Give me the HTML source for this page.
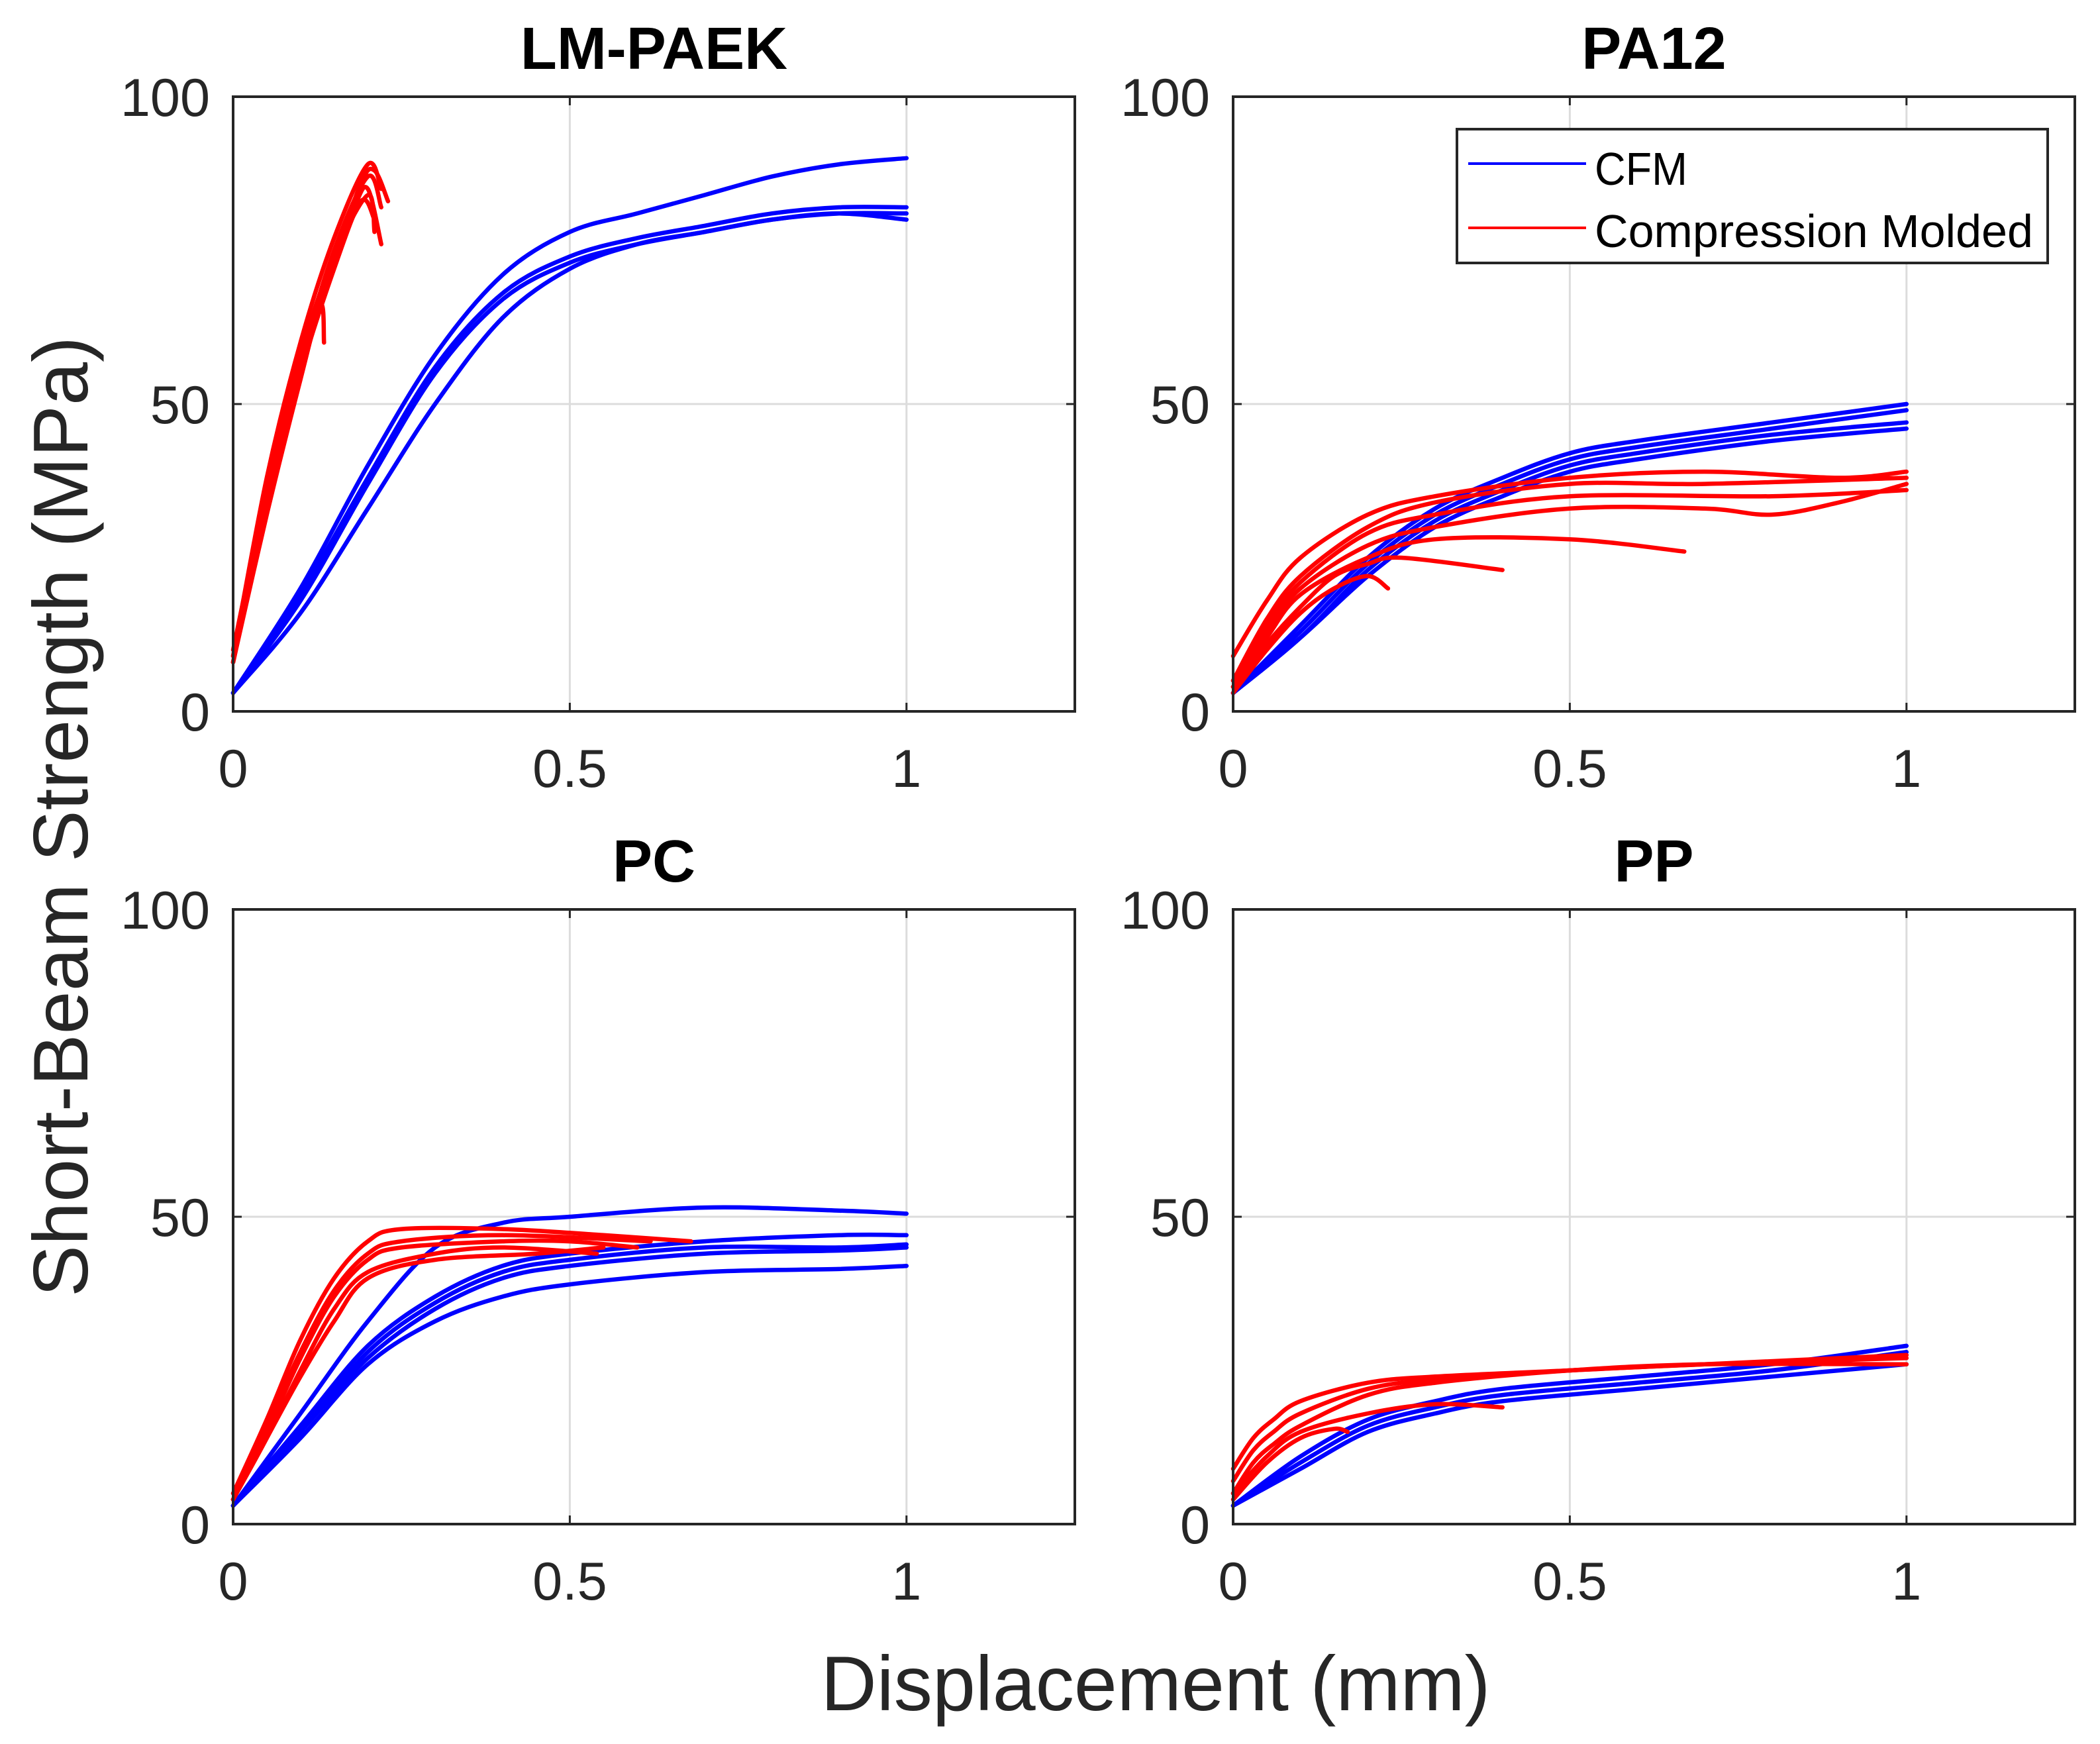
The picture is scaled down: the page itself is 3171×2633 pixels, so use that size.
<!DOCTYPE html>
<html><head><meta charset="utf-8"><style>
html,body{margin:0;padding:0;background:#fff;}
svg{display:block;font-family:"Liberation Sans",Arial,sans-serif;}
</style></head><body>
<svg id="fig" width="3171" height="2633" viewBox="0 0 3171 2633" xmlns="http://www.w3.org/2000/svg">
<rect width="3171" height="2633" fill="#fff"/>
<text x="1745" y="2582" font-size="117" fill="#262626" text-anchor="middle" textLength="1011" lengthAdjust="spacingAndGlyphs">Displacement (mm)</text>
<text transform="translate(132,1233) rotate(-90)" font-size="117" fill="#262626" text-anchor="middle">Short-Beam Strength (MPa)</text>
</svg>
<script>
// ---------- data ----------
const panelTitles = ["LM-PAEK","PA12","PC","PP"];
const xTicks = [0,0.5,1];
const xTickLabels = ["0","0.5","1"];
const yTicks = [0,50,100];
const yTickLabels = ["0","50","100"];
const legendLabels = ["CFM","Compression Molded"];

// LM-PAEK
const paekBlueX = [[0,.1,.2,.3,.4,.5,.6,.7,.8,.9,1],[0,.1,.2,.3,.4,.5,.6,.7,.8,.9,1],[0,.1,.2,.3,.4,.5,.6,.7,.8,.9,1],[0,.1,.2,.3,.4,.5,.6,.7,.8,.9,1]];
const paekBlueY = [[3,20,40,58,71,78,81,84,87,89,90],[3,19,38,56,68,74,77,79,81,82,82],[3,18,37,55,67,73,76,78,80,81,81],[3,16,33,50,64,72,76,78,80,81,80]];
const paekRedX = [[0,.05,.1,.15,.2,.22],[0,.05,.1,.15,.19,.21,.23],[0,.05,.1,.14,.18,.2,.22],[0,.05,.1,.13,.135],[0,.05,.1,.15,.2,.21],[0,.05,.1,.15,.2,.22],[0,.05,.1,.15,.19,.21]];
const paekRedY = [[9,38,60,77,89,85],[8,34,56,73,86,88,83],[8,33,55,70,82,85,76],[8,32,54,66,60],[10,36,58,74,84,78],[9,35,57,75,87,82],[8,33,55,72,83,80]];
// PA12
const pa12BlueX = [[0,.1,.2,.3,.4,.5,.6,.8,1],[0,.1,.2,.3,.4,.5,.6,.8,1],[0,.1,.2,.3,.4,.5,.6,.8,1],[0,.1,.2,.3,.4,.5,.6,.8,1]];
const pa12BlueY = [[3,14,25,33,38,42,44,47,50],[3,13,24,32,37,41,43,46,49],[3,12,23,31,36,40,42,45,47],[3,12,22,30,35,39,41,44,46]];
const pa12RedX = [[0,.05,.1,.2,.3,.5,.7,.9,1],[0,.05,.1,.2,.3,.5,.7,1],[0,.05,.1,.2,.3,.5,.8,1],[0,.05,.1,.2,.3,.5,.7,.8,.9,1],[0,.05,.1,.2,.3,.5,.67],[0,.05,.1,.15,.2,.25,.4],[0,.05,.1,.15,.2,.23]];
const pa12RedY = [[9,18,25,32,35,38,39,38,39],[5,15,22,30,34,37,37,38],[5,14,21,29,32,35,35,36],[4,13,20,27,30,33,33,32,34,37],[4,12,19,25,28,28,26],[4,11,17,22,24,25,23],[3,10,16,20,22,20]];
// PC
const pcBlueX = [[0,.1,.2,.3,.4,.5,.7,.9,1],[0,.1,.2,.3,.4,.5,.7,.9,1],[0,.1,.2,.3,.4,.5,.7,.9,1],[0,.1,.2,.3,.4,.5,.7,.9,1],[0,.1,.2,.3,.4,.5,.7,.9,1]];
const pcBlueY = [[3,18,33,45,49,50,51.5,51,50.5],[3,16,29,37,42,44,46,47,47],[3,15,28,36,41,43,45,45,45.5],[3,15,27,35,40,42,44,44.5,45],[3,14,26,33,37,39,41,41.5,42]];
const pcRedX = [[0,.05,.1,.15,.2,.25,.4,.55,.68],[0,.05,.1,.15,.2,.25,.4,.5,.6],[0,.05,.1,.15,.2,.3,.4,.54],[0,.05,.1,.15,.2,.3,.45,.55],[0,.05,.1,.15,.2,.25,.4,.62]];
const pcRedY = [[5,17,30,40,46,48,48,47,46],[4,15,27,37,43,45,46,46,45],[4,14,25,35,41,44,45,44],[4,14,24,33,40,43,44,45],[4,16,28,38,44,46,47,46]];
// PP
const ppBlueX = [[0,.1,.2,.3,.4,.6,.8,1],[0,.1,.2,.3,.4,.6,.8,1],[0,.1,.2,.3,.4,.6,.8,1]];
const ppBlueY = [[3,11,17,20,22,24,26,29],[3,10,16,19,21,23,25,28],[3,9,15,18,20,22,24,26]];
const ppRedX = [[0,.03,.06,.1,.2,.3,.5,.7,1],[0,.03,.06,.1,.2,.3,.5,.7,1],[0,.03,.06,.1,.2,.3,.5,.7,1],[0,.05,.1,.2,.3,.4],[0,.05,.1,.15,.17]];
const ppRedY = [[9,14,17,20,23,24,25,26,27],[7,12,15,18,22,23.5,25,26,27.5],[5,10,13,16,21,23,25,26,26],[5,11,15,18,19.5,19],[4,10,14,15.5,15]];

// ---------- layout ----------
const NS = "http://www.w3.org/2000/svg";
const svg = document.getElementById('fig');
const panels = [
  {l:352,t:146,r:1623,b:1074,bx:paekBlueX,by:paekBlueY,rx:paekRedX,ry:paekRedY,key:'lm-paek'},
  {l:1862,t:146,r:3133,b:1074,bx:pa12BlueX,by:pa12BlueY,rx:pa12RedX,ry:pa12RedY,key:'pa12'},
  {l:352,t:1373,r:1623,b:2301,bx:pcBlueX,by:pcBlueY,rx:pcRedX,ry:pcRedY,key:'pc'},
  {l:1862,t:1373,r:3133,b:2301,bx:ppBlueX,by:ppBlueY,rx:ppRedX,ry:ppRedY,key:'pp'}
];
const XMAX = 1.25, YMAX = 100;
function mk(tag, attrs, parent){const e=document.createElementNS(NS,tag);for(const k in attrs)e.setAttribute(k,attrs[k]);(parent||svg).appendChild(e);return e;}
function smoothPath(pts){
  let d = "M"+pts[0][0].toFixed(1)+","+pts[0][1].toFixed(1);
  for(let i=0;i<pts.length-1;i++){
    const p0=pts[Math.max(0,i-1)],p1=pts[i],p2=pts[i+1],p3=pts[Math.min(pts.length-1,i+2)];
    const c1=[p1[0]+(p2[0]-p0[0])/6,p1[1]+(p2[1]-p0[1])/6];
    const c2=[p2[0]-(p3[0]-p1[0])/6,p2[1]-(p3[1]-p1[1])/6];
    d+=" C"+c1[0].toFixed(1)+","+c1[1].toFixed(1)+" "+c2[0].toFixed(1)+","+c2[1].toFixed(1)+" "+p2[0].toFixed(1)+","+p2[1].toFixed(1);
  }
  return d;
}
panels.forEach((p,pi)=>{
  const sx = v => p.l + v/XMAX*(p.r-p.l);
  const sy = v => p.b - v/YMAX*(p.b-p.t);
  const g = mk('g',{});
  
  
  xTicks.forEach((v,i)=>{ if(v>0){ const gl=mk('line',{x1:sx(v),x2:sx(v),y1:p.t,y2:p.b,stroke:'#dcdcdc','stroke-width':3},g);
    
     }});
  yTicks.forEach((v,i)=>{ if(v>0&&v<YMAX){ const gl=mk('line',{x1:p.l,x2:p.r,y1:sy(v),y2:sy(v),stroke:'#dcdcdc','stroke-width':3},g);
    
     }});
  const addSeries=(X,Y,color,nm)=>{
    X.forEach((xs,ci)=>{
      const pts = xs.map((x,j)=>[sx(x),sy(Y[ci][j])]);
      const path = mk('path',{d:smoothPath(pts),fill:'none',stroke:color,'stroke-width':6.5,'stroke-linejoin':'round','stroke-linecap':'round'},g);
      
      
    });
  };
  addSeries(p.bx,p.by,'#0000ff','cfm');
  addSeries(p.rx,p.ry,'#ff0000','compression-molded');
  xTicks.forEach((v,i)=>{
    mk('line',{x1:sx(v),x2:sx(v),y1:p.b,y2:p.b-13,stroke:'#262626','stroke-width':3},g);
    mk('line',{x1:sx(v),x2:sx(v),y1:p.t,y2:p.t+13,stroke:'#262626','stroke-width':3},g);
    const t=mk('text',{x:sx(v),y:p.b+114,'font-size':81,fill:'#262626','text-anchor':'middle'},g);
    t.textContent=xTickLabels[i];
    
    
  });
  yTicks.forEach((v,i)=>{
    mk('line',{x1:p.l,x2:p.l+13,y1:sy(v),y2:sy(v),stroke:'#262626','stroke-width':3},g);
    mk('line',{x1:p.r,x2:p.r-13,y1:sy(v),y2:sy(v),stroke:'#262626','stroke-width':3},g);
    const t=mk('text',{x:p.l-35,y:sy(v)+29,'font-size':81,fill:'#262626','text-anchor':'end'},g);
    t.textContent=yTickLabels[i];
    
    
  });
  const box=mk('rect',{x:p.l,y:p.t,width:p.r-p.l,height:p.b-p.t,fill:'none',stroke:'#262626','stroke-width':4},g);
  
  
  const tt=mk('text',{x:(p.l+p.r)/2,y:p.t-42,'font-size':90,'font-weight':'bold',fill:'#000','text-anchor':'middle'},g);
  tt.textContent=panelTitles[pi];
  
  
});
const lg = mk('g',{});


mk('rect',{x:2200,y:195,width:892,height:202,fill:'#fff',stroke:'#262626','stroke-width':4},lg);
const legColors=['#0000ff','#ff0000'];
const legY=[247,344];
const legBase=[279,373];
const legLen=[140,662];
legendLabels.forEach((lab,i)=>{
  const e=mk('g',{},lg);
  
  
  mk('line',{x1:2217,x2:2395,y1:legY[i],y2:legY[i],stroke:legColors[i],'stroke-width':4},e);
  const t=mk('text',{x:2408,y:legBase[i],'font-size':70,fill:'#000',textLength:legLen[i],lengthAdjust:'spacingAndGlyphs'},e);
  t.textContent=lab;
});
</script>
</body></html>
